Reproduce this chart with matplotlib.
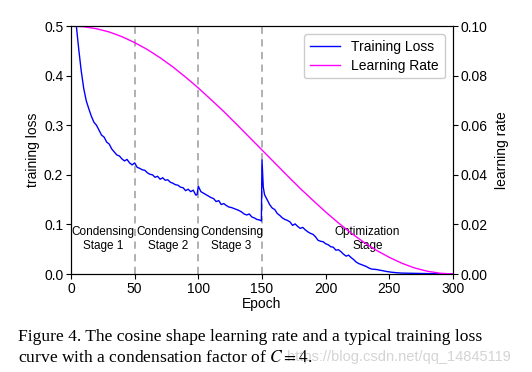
import matplotlib
matplotlib.use("Agg")
import matplotlib.pyplot as plt

plt.rcParams['font.family'] = ['Liberation Sans', 'DejaVu Sans']
plt.rcParams['mathtext.fontset'] = 'stix'

# ---- data ----
loss_epochs = [0, 2, 4, 6, 8, 10, 12, 14, 16, 18, 20, 22, 24, 26, 28, 30, 32, 34, 36, 38,
               40, 42, 44, 46, 48, 50, 52, 54, 56, 58, 60, 62, 64, 66, 68, 70, 72, 74, 76, 78,
               80, 82, 84, 86, 88, 90, 92, 94, 96, 98, 99, 100, 102, 104, 106, 108, 110, 112, 114, 116,
               118, 120, 122, 124, 126, 128, 130, 132, 134, 136, 138, 140, 142, 144, 146, 148, 149.5, 150, 151, 152,
               154, 156, 158, 160, 162, 164, 166, 168, 170, 172, 174, 176, 178, 180, 182, 184, 186, 188, 190, 192,
               194, 196, 198, 200, 202, 204, 206, 208, 210, 212, 214, 216, 218, 220, 222, 224, 226, 228, 230, 232,
               234, 236, 238, 240, 244, 248, 252, 256, 260, 270, 280, 290, 300]
loss_values = [0.62, 0.56, 0.505, 0.455, 0.410, 0.374, 0.349, 0.333, 0.318, 0.306,
               0.300, 0.290, 0.280, 0.276, 0.266, 0.262, 0.252, 0.246, 0.240, 0.238,
               0.232, 0.228, 0.231, 0.224, 0.220, 0.224, 0.215, 0.213, 0.210, 0.209,
               0.204, 0.201, 0.200, 0.195, 0.197, 0.191, 0.194, 0.189, 0.190, 0.185,
               0.183, 0.180, 0.179, 0.175, 0.174, 0.168, 0.171, 0.166, 0.169, 0.159,
               0.160, 0.177, 0.166, 0.163, 0.160, 0.157, 0.154, 0.152, 0.146, 0.148,
               0.140, 0.142, 0.138, 0.135, 0.134, 0.132, 0.130, 0.128, 0.125, 0.121,
               0.119, 0.121, 0.115, 0.113, 0.110, 0.109, 0.107, 0.230, 0.175, 0.160,
               0.150, 0.140, 0.133, 0.130, 0.122, 0.118, 0.113, 0.110, 0.108, 0.105,
               0.098, 0.101, 0.096, 0.092, 0.094, 0.089, 0.085, 0.082, 0.080, 0.075,
               0.068, 0.066, 0.065, 0.061, 0.059, 0.055, 0.054, 0.048, 0.049, 0.045,
               0.040, 0.036, 0.038, 0.033, 0.029, 0.024, 0.021, 0.019, 0.017, 0.015,
               0.012, 0.010, 0.0095, 0.009, 0.007, 0.005, 0.0035, 0.0025, 0.0018, 0.0012,
               0.0008, 0.0005, 0.0004]

lr_epochs = [0, 10, 20, 30, 40, 50, 60, 70, 80, 90, 100, 110, 120, 130, 140, 150,
             160, 170, 180, 190, 200, 210, 220, 230, 240, 250, 260, 270, 280, 290, 300]
lr_values = [0.1, 0.0997, 0.0989, 0.0976, 0.0957, 0.0933, 0.0905, 0.0872, 0.0835, 0.0794,
             0.075, 0.0703, 0.0655, 0.0604, 0.0552, 0.05, 0.0448, 0.0396, 0.0345, 0.0297,
             0.025, 0.0206, 0.0165, 0.0128, 0.0095, 0.0067, 0.0043, 0.0024, 0.0011, 0.0003, 0.0]

stage_bounds = [50, 100, 150]
stage_labels = ["Condensing\nStage 1", "Condensing\nStage 2", "Condensing\nStage 3", "Optimization\nStage"]
stage_label_x = [25, 76, 126, 233]

fig = plt.figure(figsize=(5.32, 3.72), dpi=100)
ax = fig.add_axes([71/532, 1 - 274/372, (453 - 71)/532, (274 - 26)/372])
ax2 = ax.twinx()

for b in stage_bounds:
    ax.axvline(b, color='#aaaaaa', linestyle=(0, (4, 3)), linewidth=1.3, zorder=1)

l1, = ax.plot(loss_epochs, loss_values, color='blue', linewidth=1.0, label='Training Loss', zorder=3)
l2, = ax2.plot(lr_epochs, lr_values, color='magenta', linewidth=1.0, label='Learning Rate')

ax.set_xlim(0, 300)
ax.set_ylim(0, 0.5)
ax2.set_ylim(0, 0.1)
ax.set_xticks([0, 50, 100, 150, 200, 250, 300])
ax.set_yticks([0.0, 0.1, 0.2, 0.3, 0.4, 0.5])
ax2.set_yticks([0.0, 0.02, 0.04, 0.06, 0.08, 0.10])
ax.set_yticklabels(['0.0', '0.1', '0.2', '0.3', '0.4', '0.5'])
ax2.set_yticklabels(['0.00', '0.02', '0.04', '0.06', '0.08', '0.10'])

for a in (ax, ax2):
    a.tick_params(labelsize=10, length=3.5, width=0.8, pad=2)
ax.set_xlabel('Epoch', fontsize=10, labelpad=1)
ax.set_ylabel('training loss', fontsize=10, labelpad=3)
ax2.set_ylabel('learning rate', fontsize=10, labelpad=5)

for x, t in zip(stage_label_x, stage_labels):
    ax.text(x, 0.071, t, ha='center', va='center', fontsize=8.5, color='black', linespacing=1.25)

ax.legend(handles=[l1, l2], loc='upper right', fontsize=10, framealpha=1,
          edgecolor='#cccccc', handlelength=2.2, borderaxespad=0.6, labelspacing=0.35)

fig.text(511/532, 1 - 361/372, "https://blog.csdn.net/qq_14845119", color='#d4d4d4',
         fontsize=10.5, ha='right', va='baseline', zorder=0)
fig.text(18/532, 1 - 341/372, "Figure 4. The cosine shape learning rate and a typical training loss",
         family='Liberation Serif', fontsize=12.6, ha='left', va='baseline', zorder=2)
fig.text(18/532, 1 - 362/372, r"curve with a condensation factor of $C = 4$.",
         family='Liberation Serif', fontsize=12.6, ha='left', va='baseline', zorder=2)

fig.savefig('out.png', dpi=100)
